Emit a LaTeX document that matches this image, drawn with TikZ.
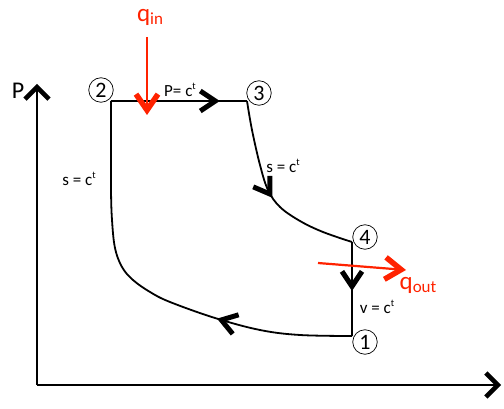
\documentclass[tikz,border=0pt]{standalone}
\usepackage{fontspec}
\setmainfont{Carlito}
\usetikzlibrary{arrows.meta,decorations.markings}
\definecolor{heatred}{RGB}{255,34,0}
\begin{document}
\begin{tikzpicture}[x=1pt,y=-1pt,
  cyc/.style={line width=1.8pt, black},
  axis/.style={line width=2.2pt, black, -{Straight Barb[length=12pt,width=24pt,line width=4.5pt]}},
  heat/.style={line width=2.2pt, heatred, -{Straight Barb[length=16pt,width=22pt,line width=5.5pt]}},
  midarrow/.style={postaction={decorate}, decoration={markings,
     mark=at position #1 with {\arrow{Straight Barb[length=15pt,width=20pt,line width=5pt]}}}},
  state/.style={circle, draw, line width=0.7pt, inner sep=0.5pt, minimum size=24.5pt, font=\fontsize{22}{22}\selectfont},
  lbl/.style={font=\fontsize{17}{17}\selectfont, inner sep=1pt},
  hlbl/.style={text=heatred, inner sep=1pt}
]
\useasboundingbox (0,0) rectangle (504,409);
% axes
\coordinate (O) at (37,385);
\coordinate (Ptop) at (37,84);
\coordinate (Vend) at (501,385);
\draw[axis] (O) -- (Ptop);
\draw[axis] (O) -- (Vend);
\node[font=\fontsize{24}{24}\selectfont, inner sep=0pt] (Plab) at (18,91) {P};
% states
\coordinate (p1) at (352,336);
\coordinate (p2) at (111,101);
\coordinate (p3) at (247,101);
\coordinate (p4) at (352,242);
\node[state] (n1) at (365,342) {1};
\node[state] (n2) at (101,90) {2};
\node[state] (n3) at (259,93) {3};
\node[state] (n4) at (365,237) {4};
% cycle
\draw[cyc, midarrow=0.8] (p2) -- (p3);
\draw[cyc, midarrow=0.52] plot[smooth, tension=0.6] coordinates {(247,101) (252,130) (260,165) (268,190) (280,207) (300,221) (323,232) (352,242)};
\draw[cyc, midarrow=0.52] (p4) -- (p1);
\draw[cyc, midarrow=0.33] plot[smooth, tension=0.6] coordinates {(352,336) (300,335) (260,330) (215,318) (170,302) (150,292) (133,280) (122,267) (115,248) (112,220) (111,190) (111,150) (111,101)};
% labels
\node[lbl] (lP) at (180,90) {P= c\raisebox{7pt}{\fontsize{10}{10}\selectfont t}};
\node[lbl] (lsR) at (283,166) {s = c\raisebox{7pt}{\fontsize{10}{10}\selectfont t}};
\node[lbl] (lsL) at (79,179) {s = c\raisebox{7pt}{\fontsize{10}{10}\selectfont t}};
\node[lbl] (lv) at (377,307) {v = c\raisebox{7pt}{\fontsize{10}{10}\selectfont t}};
% heat
\node[hlbl, font=\fontsize{25}{25}\selectfont] (qin) at (150,17) {q\raisebox{-3pt}{\fontsize{17}{17}\selectfont in}};
\coordinate (qinS) at (147,37);
\coordinate (qinT) at (147,115);
\draw[heat] (qinS) -- (qinT);
\node[hlbl, font=\fontsize{25}{25}\selectfont] (qout) at (418,285) {q\raisebox{-3pt}{\fontsize{17}{17}\selectfont out}};
\coordinate (qoS) at (318,263);
\coordinate (qoT) at (406,270);
\draw[heat] (qoS) -- (qoT);
\end{tikzpicture}
\end{document}
